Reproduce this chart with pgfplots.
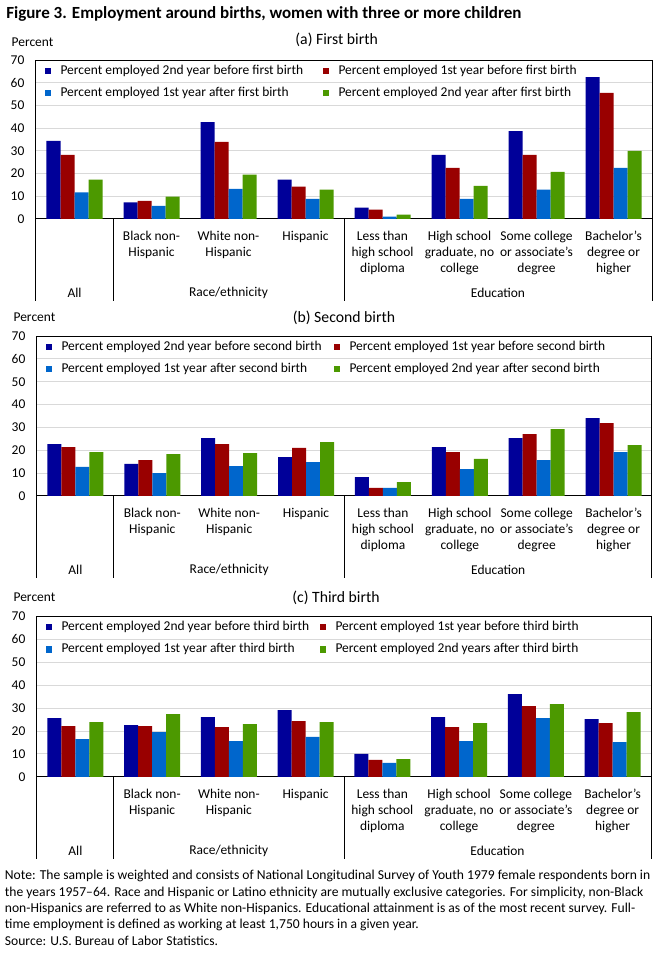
\documentclass[border=0pt]{standalone}
\usepackage{pgfplots}
\pgfplotsset{compat=1.18}
\usepackage{pgfplotstable}
\usepackage{fontspec}
\setmainfont{Carlito}
\definecolor{cB}{RGB}{0,0,153}
\definecolor{cR}{RGB}{153,0,0}
\definecolor{cL}{RGB}{0,102,204}
\definecolor{cG}{RGB}{76,153,0}

\pgfplotstableread{
x b2 b1 a1 a2
0 34.4 28.2 11.7 17.3
1 7.3 8.0 5.8 9.8
2 42.7 33.9 13.3 19.5
3 17.3 14.2 8.9 12.9
4 5.0 4.1 1.0 1.9
5 28.2 22.5 8.9 14.6
6 38.7 28.2 12.9 20.8
7 62.5 55.5 22.5 30.0
}\tabA
\pgfplotstableread{
x b2 b1 a1 a2
0 22.7 21.4 12.7 19.2
1 14.0 15.7 10.0 18.3
2 25.3 22.7 13.1 18.8
3 17.0 21.0 14.8 23.6
4 8.3 3.5 3.5 6.1
5 21.4 19.2 11.8 16.2
6 25.3 27.1 15.7 29.3
7 34.1 31.9 19.2 22.3
}\tabB
\pgfplotstableread{
x b2 b1 a1 a2
0 25.6 22.1 16.5 23.9
1 22.6 22.1 19.5 27.3
2 26.0 21.7 15.6 23.0
3 29.1 24.3 17.4 23.9
4 10.0 7.4 6.1 7.8
5 26.0 21.7 15.6 23.4
6 36.0 30.8 25.6 31.7
7 25.2 23.4 15.2 28.2
}\tabC

\newcommand{\lf}{\fontsize{10.1}{12}\selectfont}
\newcommand{\tf}{\fontsize{10.1}{12}\selectfont}
\pgfplotsset{
  panel/.style={
    scale only axis, width=462pt,
    anchor=north west,
    ybar=0pt, bar width=10.5pt,
    xmin=-0.5, xmax=7.5, ymin=0, ymax=70,
    enlarge x limits=false,
    ytick={0,10,...,70},
    xtick={0,...,7},
    xticklabels={{}, {Black non-\\Hispanic}, {White non-\\Hispanic}, {Hispanic}, {Less than\\high school\\diploma}, {High school\\graduate, no\\college}, {Some college\\or associate's\\degree}, {Bachelor's\\degree or\\higher}},
    major tick length=0pt,
    ymajorgrids, grid style={draw=black!15, line width=0.75pt},
    axis line style={line width=0.75pt},
    /pgf/number format/assume math mode=true,
    yticklabel style={font=\tf, inner sep=0pt, anchor=east, xshift=-8.5pt},
    xticklabel style={font=\lf, align=center, inner sep=0pt, anchor=north, yshift=-9pt},
    clip=false,
    legend columns=2,
    legend cell align=left,
    legend style={draw=none, fill=none, font=\lf, at={(rel axis cs:0,1)}, anchor=north west,
      inner xsep=6.2pt, inner ysep=3pt, row sep=6pt, column sep=0pt,
      nodes={inner xsep=0pt, inner ysep=1pt}},
    legend image code/.code={\fill[##1] (0pt,-2.4pt) rectangle (4.8pt,2.4pt); \path (12pt,0pt);},
    every axis plot/.append style={draw=none},
  },
}
\newcommand{\groupdecor}{%
  \draw[line width=0.75pt] (rel axis cs:0,0) -- ++(0pt,-61.5pt);
  \draw[line width=0.75pt] (axis cs:0.5,0) -- ++(0pt,-61.5pt);
  \draw[line width=0.75pt] (axis cs:3.5,0) -- ++(0pt,-61.5pt);
  \draw[line width=0.75pt] (rel axis cs:1,0) -- ++(0pt,-61.5pt);
  \node[font=\lf, anchor=center] at ([yshift=-55.5pt]axis cs:0,0) {All};
  \node[font=\lf, anchor=center] at ([yshift=-55.5pt]axis cs:2,0) {Race/ethnicity};
  \node[font=\lf, anchor=center] at ([yshift=-55.5pt]axis cs:5.5,0) {Education};
}

\begin{document}
\begin{tikzpicture}
\useasboundingbox (0,0) rectangle (503.25pt,-717pt);
\node[anchor=west, font=\fontsize{12.75}{14}\selectfont\bfseries, inner sep=0pt] at (4.5pt,-10.5pt) {Figure 3. Employment around births, women with three or more children};

% ---------- panel a
\node[anchor=west, font=\lf, inner sep=0pt] at (8.5pt,-31.5pt) {Percent};
\node[anchor=center, font=\fontsize{11.8}{13}\selectfont, inner sep=0pt] at (252.5pt,-30pt) {(a) First birth};
\begin{axis}[panel, height=119.25pt, at={(27pt,-45pt)}]
\addplot[fill=cB] table[x=x,y=b2]{\tabA};
\addlegendentry{\makebox[196.5pt][l]{Percent employed 2nd year before first birth}}
\addplot[fill=cR] table[x=x,y=b1]{\tabA};
\addlegendentry{Percent employed 1st year before first birth}
\addplot[fill=cL] table[x=x,y=a1]{\tabA};
\addlegendentry{\makebox[196.5pt][l]{Percent employed 1st year after first birth}}
\addplot[fill=cG] table[x=x,y=a2]{\tabA};
\addlegendentry{Percent employed 2nd year after first birth}
\groupdecor
\end{axis}

% ---------- panel b
\node[anchor=west, font=\lf, inner sep=0pt] at (10pt,-238pt) {Percent};
\node[anchor=center, font=\fontsize{11.8}{13}\selectfont, inner sep=0pt] at (258pt,-238.5pt) {(b) Second birth};
\begin{axis}[panel, height=120pt, at={(27.75pt,-252pt)}, width=461.25pt]
\addplot[fill=cB] table[x=x,y=b2]{\tabB};
\addlegendentry{\makebox[204pt][l]{Percent employed 2nd year before second birth}}
\addplot[fill=cR] table[x=x,y=b1]{\tabB};
\addlegendentry{Percent employed 1st year before second birth}
\addplot[fill=cL] table[x=x,y=a1]{\tabB};
\addlegendentry{\makebox[204pt][l]{Percent employed 1st year after second birth}}
\addplot[fill=cG] table[x=x,y=a2]{\tabB};
\addlegendentry{Percent employed 2nd year after second birth}
\groupdecor
\end{axis}

% ---------- panel c
\node[anchor=west, font=\lf, inner sep=0pt] at (10pt,-448pt) {Percent};
\node[anchor=center, font=\fontsize{11.8}{13}\selectfont, inner sep=0pt] at (252pt,-448pt) {(c) Third birth};
\begin{axis}[panel, height=120.75pt, at={(27.75pt,-462pt)}, width=460.5pt]
\addplot[fill=cB] table[x=x,y=b2]{\tabC};
\addlegendentry{\makebox[193.5pt][l]{Percent employed 2nd year before third birth}}
\addplot[fill=cR] table[x=x,y=b1]{\tabC};
\addlegendentry{Percent employed 1st year before third birth}
\addplot[fill=cL] table[x=x,y=a1]{\tabC};
\addlegendentry{\makebox[193.5pt][l]{Percent employed 1st year after third birth}}
\addplot[fill=cG] table[x=x,y=a2]{\tabC};
\addlegendentry{Percent employed 2nd years after third birth}
\groupdecor
\end{axis}

% ---------- notes
\node[anchor=north west, align=left, inner sep=0pt, font=\fontsize{10.2}{12.3}\selectfont] at (3.5pt,-652.5pt) {%
Note: The sample is weighted and consists of National Longitudinal  Survey of Youth 1979 female respondents  born in\\
the years 1957--64. Race and Hispanic or Latino ethnicity  are mutually  exclusive categories. For simplicity,  non-Black\\
non-Hispanics  are referred to as White non-Hispanics.  Educational  attainment  is as of the most recent survey. Full-\\
time employment  is defined as working  at least 1,750 hours in a given year.\\
Source: U.S. Bureau of Labor Statistics.};
\end{tikzpicture}
\end{document}
